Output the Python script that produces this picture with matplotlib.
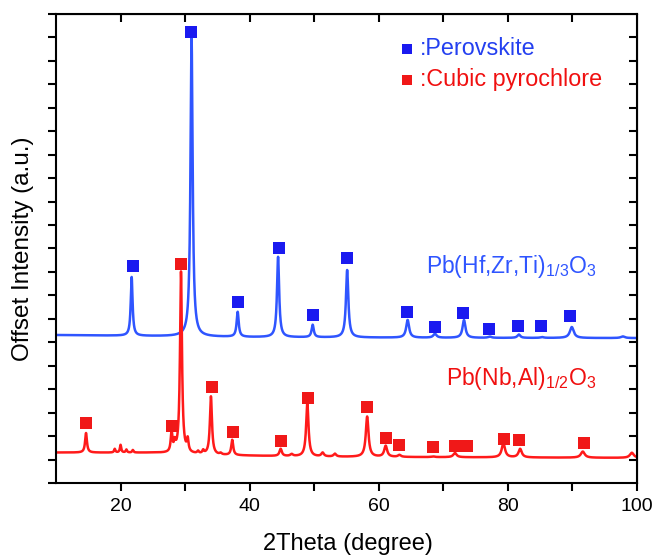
import numpy as np
import matplotlib
matplotlib.use("Agg")
import matplotlib.pyplot as plt

plt.rcParams["font.family"] = ["Liberation Sans", "DejaVu Sans"]
plt.rcParams["mathtext.fontset"] = "custom"
plt.rcParams["mathtext.rm"] = "Liberation Sans"
plt.rcParams["mathtext.default"] = "regular"

# ---- XRD pattern data (2theta in degrees, offset intensity in a.u.) ----
# Pb(Hf,Zr,Ti)1/3O3 : peak centre, peak top, half width
phzt_pos = [21.72, 31.0, 38.14, 44.4, 49.76, 55.1, 64.47, 68.7, 73.2, 77.2, 81.7, 85.3, 89.9, 97.8]
phzt_top = [8.78, 18.98, 7.29, 9.64, 6.74, 9.08, 6.95, 6.36, 6.95, 6.24, 6.33, 6.22, 6.65, 6.25]
phzt_hw = [0.17, 0.2, 0.19, 0.2, 0.2, 0.22, 0.27, 0.3, 0.27, 0.3, 0.27, 0.3, 0.36, 0.36]
phzt_base_x = [10, 40, 70, 100]
phzt_base_y = [6.31, 6.22, 6.19, 6.18]

# Pb(Nb,Al)1/2O3
pna_pos = [14.65, 19.1, 20.0, 20.9, 21.9, 27.9, 28.4, 29.36, 30.4, 32.0, 32.8, 34.0, 35.5,
           37.3, 44.8, 46.5, 48.93, 51.3, 53.2, 58.2, 61.07, 63.2, 68.4, 71.8, 79.3, 81.9,
           91.6, 99.2]
pna_top = [2.13, 1.45, 1.62, 1.42, 1.40, 2.13, 1.62, 9.0, 1.75, 1.32, 1.35, 3.68, 1.25,
           1.83, 1.45, 1.22, 3.40, 1.28, 1.24, 2.83, 1.58, 1.19, 1.13, 1.28, 1.70, 1.45,
           1.34, 1.29]
pna_hw = [0.17, 0.12, 0.12, 0.12, 0.12, 0.15, 0.15, 0.18, 0.15, 0.15, 0.15, 0.19, 0.18,
          0.18, 0.22, 0.24, 0.22, 0.24, 0.24, 0.25, 0.27, 0.27, 0.3, 0.3, 0.3, 0.3,
          0.36, 0.36]
pna_base_x = [10, 25, 35, 50, 100]
pna_base_y = [1.30, 1.29, 1.19, 1.12, 1.07]

# Phase markers
perov_x = [21.93, 30.91, 38.19, 44.54, 49.81, 55.07, 64.37, 68.71, 73.04, 77.07, 81.56, 85.12, 89.61]
perov_y = [9.25, 19.23, 7.72, 10.02, 7.16, 9.59, 7.29, 6.65, 7.25, 6.57, 6.70, 6.70, 7.12]
pyro_x = [14.65, 27.9, 29.36, 34.16, 37.42, 44.85, 49.03, 58.17, 61.11, 63.13, 68.4,
          71.8, 73.66, 79.39, 81.72, 91.78]
pyro_y = [2.56, 2.44, 9.34, 4.09, 2.17, 1.79, 3.62, 3.24, 1.92, 1.62, 1.54, 1.58, 1.58,
          1.88, 1.83, 1.71]

BLUE_LINE = "#2f55ff"
BLUE_MARK = "#1a1af0"
RED_LINE = "#ff1a1a"
RED_MARK = "#f01818"


def pattern(tt, pos, top, hw, bx, by):
    base = np.interp(tt, bx, by)
    y = base.copy()
    for p, t, w in zip(pos, top, hw):
        h = t - np.interp(p, bx, by)
        y += h / (1.0 + ((tt - p) / w) ** 2)
    return y


tt = np.linspace(10, 100, 6000)
y_phzt = pattern(tt, phzt_pos, phzt_top, phzt_hw, phzt_base_x, phzt_base_y)
y_pna = pattern(tt, pna_pos, pna_top, pna_hw, pna_base_x, pna_base_y)

fig = plt.figure(figsize=(6.53, 5.56), dpi=100)
ax = fig.add_axes([56 / 653, 73 / 556, 581 / 653, 469 / 556])

ax.plot(tt, y_phzt, color=BLUE_LINE, lw=1.8, zorder=2)
ax.plot(tt, y_pna, color=RED_LINE, lw=1.8, zorder=2)
ax.plot(perov_x, perov_y, "s", color=BLUE_MARK, ms=8, mew=0, zorder=3)
ax.plot(pyro_x, pyro_y, "s", color=RED_MARK, ms=8, mew=0, zorder=3)

# phase key
ax.plot([64.37], [18.51], "s", color=BLUE_MARK, ms=7.5, mew=0)
ax.plot([64.37], [17.19], "s", color=RED_MARK, ms=7.5, mew=0)
ax.text(66.4, 18.51, ":Perovskite", color="#2440f0", fontsize=16.8, va="center", ha="left")
ax.text(66.4, 17.19, ":Cubic pyrochlore", color="#f01010", fontsize=16.8, va="center", ha="left")

# composition labels
ax.text(67.3, 8.95, r"Pb(Hf,Zr,Ti)$_{1/3}$O$_3$", color="#2f55ff", fontsize=16.5,
        ha="left", va="baseline")
ax.text(70.4, 4.18, r"Pb(Nb,Al)$_{1/2}$O$_3$", color="#f01010", fontsize=16.5,
        ha="left", va="baseline")

ax.set_xlim(10, 100)
ax.set_ylim(0, 20)
ax.set_xticks([20, 40, 60, 80, 100])
ax.set_xticks([30, 50, 70, 90], minor=True)
ax.set_yticks(np.arange(0, 21, 1))
ax.set_yticklabels([])

for s in ax.spines.values():
    s.set_linewidth(1.5)

ax.tick_params(axis="both", which="both", width=1.5, length=6, labelsize=14)
ax.tick_params(axis="x", which="both", direction="out", pad=5)
ax.tick_params(axis="y", which="both", direction="out")

# mirrored inward ticks on the top and right edges
top = ax.secondary_xaxis("top")
top.set_xticks([20, 30, 40, 50, 60, 70, 80, 90])
top.tick_params(direction="in", length=6, width=1.5, labeltop=False)
right = ax.secondary_yaxis("right")
right.set_yticks(np.arange(1, 20, 1))
right.tick_params(direction="in", length=6, width=1.5, labelright=False)

fig.text(347.5 / 653, 6 / 556, "2Theta (degree)", fontsize=17, ha="center", va="baseline")
fig.text(23 / 653, 1 - 248.5 / 556, "Offset Intensity (a.u.)", fontsize=17.5,
         ha="center", va="center", rotation=90)

fig.savefig("out.png", dpi=100)
